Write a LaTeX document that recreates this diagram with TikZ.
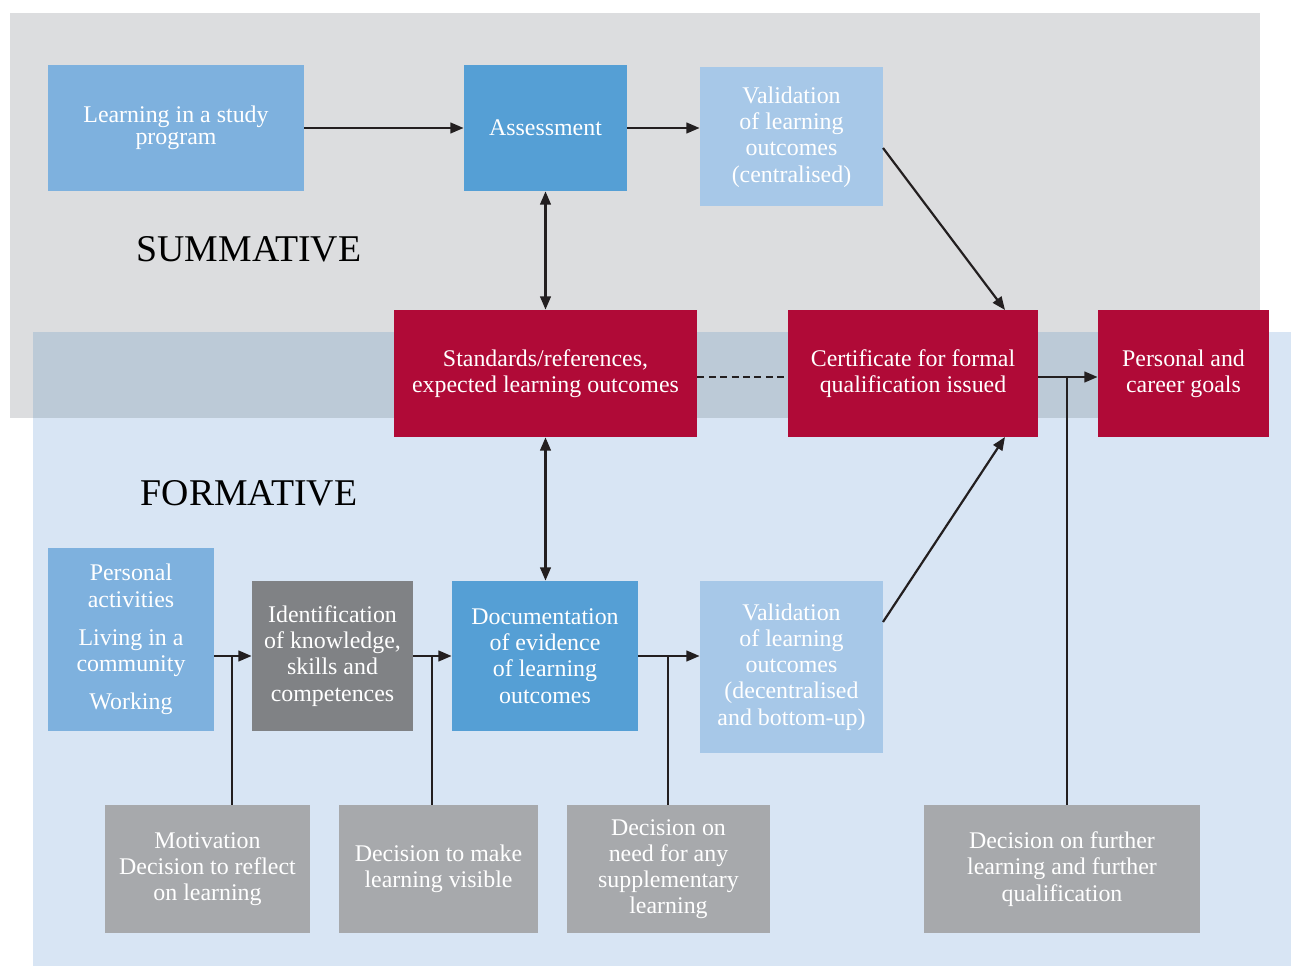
\documentclass[tikz,border=0pt]{standalone}
\usepackage{fontspec}
\setmainfont{Liberation Serif}
\usetikzlibrary{arrows.meta}
\definecolor{sumbg}{HTML}{DCDDDF}
\definecolor{formbg}{HTML}{D8E5F4}
\definecolor{ovbg}{HTML}{BCCAD7}
\definecolor{crim}{HTML}{B00A37}
\definecolor{midblue}{HTML}{559FD5}
\definecolor{ltblue}{HTML}{7EB1DE}
\definecolor{paleblue}{HTML}{A7C8E8}
\definecolor{dkgray}{HTML}{808285}
\definecolor{ltgray}{HTML}{A7A9AC}
\definecolor{arr}{HTML}{231F20}
\tikzset{
  box/.style={inner sep=0pt, text=white, align=center,
    font=\fontsize{13.6}{14.9}\selectfont},
  conn/.style={draw=arr, line width=1.25pt},
  arrow/.style={conn, -{Triangle[length=7.5pt,width=6pt]}},
  biarrow/.style={conn, {Triangle[length=7.5pt,width=6pt]}-{Triangle[length=7.5pt,width=6pt]}},
  dashline/.style={conn, dash pattern=on 4pt off 2.5pt},
  heading/.style={text=black, font=\fontsize{21.5}{24}\selectfont}
}
\begin{document}
\begin{tikzpicture}
\useasboundingbox (0,0) rectangle (25.82,-19.32);
% backgrounds
\fill[sumbg] (0.20,-0.26) rectangle (25.20,-8.36);
\fill[formbg] (0.66,-6.64) rectangle (25.82,-19.32);
\fill[ovbg] (0.66,-6.64) rectangle (25.20,-8.36);

\node[heading] (sumlbl) at (4.98,-4.98) {SUMMATIVE};
\node[heading] (formlbl) at (4.98,-9.86) {FORMATIVE};

% boxes
\node[box, fill=ltblue, minimum width=5.12cm, minimum height=2.52cm,
  font=\fontsize{13.6}{12.5}\selectfont] (learn) at (3.52,-2.56)
  {Learning in a study\\program};
\node[box, fill=midblue, minimum width=3.26cm, minimum height=2.52cm] (assess) at (10.91,-2.56) {Assessment};
\node[box, fill=paleblue, minimum width=3.66cm, minimum height=2.78cm] (valc) at (15.83,-2.74)
  {Validation\\of learning\\outcomes\\(centralised)};
\node[box, fill=crim, minimum width=6.06cm, minimum height=2.54cm] (std) at (10.91,-7.47)
  {Standards/references,\\expected learning outcomes};
\node[box, fill=crim, minimum width=5.00cm, minimum height=2.54cm] (cert) at (18.26,-7.47)
  {Certificate for formal\\qualification issued};
\node[box, fill=crim, minimum width=3.42cm, minimum height=2.54cm] (goals) at (23.67,-7.47)
  {Personal and\\career goals};
\node[box, fill=ltblue, minimum width=3.32cm, minimum height=3.66cm] (pers) at (2.62,-12.79)
  {Personal\\activities\\[6.8pt]Living in a\\community\\[6.8pt]Working};
\node[box, fill=dkgray, minimum width=3.22cm, minimum height=3.00cm] (ident) at (6.65,-13.12)
  {Identification\\of knowledge,\\skills and\\competences};
\node[box, fill=midblue, minimum width=3.72cm, minimum height=3.00cm] (doc) at (10.90,-13.12)
  {Documentation\\of evidence\\of learning\\outcomes};
\node[box, fill=paleblue, minimum width=3.66cm, minimum height=3.44cm] (vald) at (15.83,-13.34)
  {Validation\\of learning\\outcomes\\(decentralised\\and bottom-up)};
\node[box, fill=ltgray, minimum width=4.10cm, minimum height=2.56cm] (motiv) at (4.15,-17.38)
  {Motivation\\Decision to reflect\\on learning};
\node[box, fill=ltgray, minimum width=3.98cm, minimum height=2.56cm] (visib) at (8.77,-17.38)
  {Decision to make\\learning visible};
\node[box, fill=ltgray, minimum width=4.06cm, minimum height=2.56cm] (supp) at (13.37,-17.38)
  {Decision on\\need for any\\supplementary\\learning};
\node[box, fill=ltgray, minimum width=5.52cm, minimum height=2.56cm] (further) at (21.24,-17.38)
  {Decision on further\\learning and further\\qualification};

% junction coordinates
\coordinate (j1) at (4.64,-13.12);
\coordinate (j2) at (8.64,-13.12);
\coordinate (j3) at (13.36,-13.12);
\coordinate (j4) at (21.34,-7.54);
\coordinate (vcs) at (17.66,-2.96);
\coordinate (cte) at (20.10,-6.20);
\coordinate (vds) at (17.66,-12.44);
\coordinate (cbe) at (20.10,-8.74);

% connectors
\draw[arrow] (learn.east) -- (assess.west);
\draw[arrow] (assess.east) -- (valc.west |- assess.east);
\draw[biarrow] (assess.south) -- (assess.south |- std.north);
\draw[biarrow] (assess.south |- std.south) -- (assess.south |- doc.north);
\draw[dashline] (std.east |- j4) -- (cert.west |- j4);
\draw[arrow] (cert.east |- j4) -- (goals.west |- j4);
\draw[conn] (further.north -| j4) -- (j4);
\draw[arrow] (vcs) -- (cte);
\draw[arrow] (vds) -- (cbe);
\draw[arrow] (pers.east |- j1) -- (ident.west);
\draw[conn] (motiv.north -| j1) -- (j1);
\draw[arrow] (ident.east) -- (doc.west);
\draw[conn] (visib.north -| j2) -- (j2);
\draw[arrow] (doc.east) -- (vald.west |- doc.east);
\draw[conn] (supp.north -| j3) -- (j3);
\end{tikzpicture}
\end{document}
